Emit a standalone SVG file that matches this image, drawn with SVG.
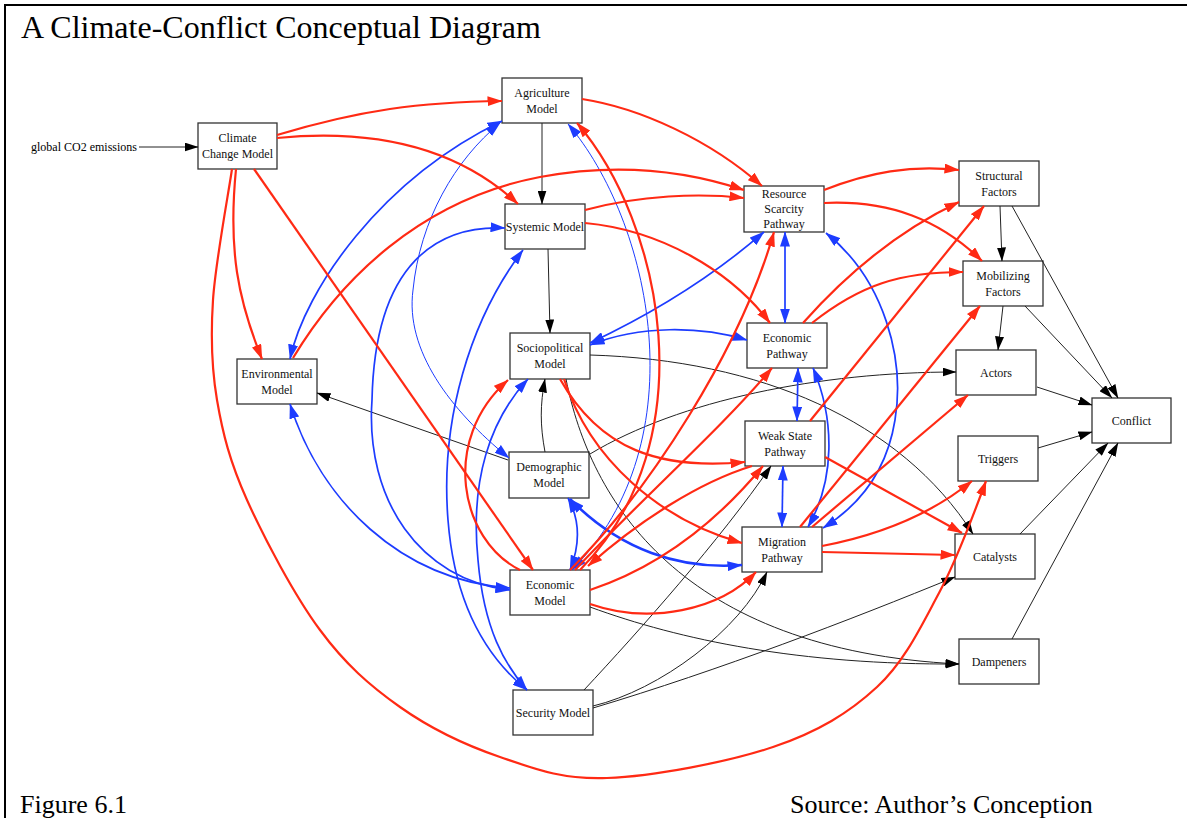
<svg xmlns="http://www.w3.org/2000/svg" width="1187" height="818" viewBox="0 0 1187 818">
<defs>
<marker id="ar" viewBox="0 0 15 10" refX="14.5" refY="5" markerWidth="15" markerHeight="10" markerUnits="userSpaceOnUse" orient="auto-start-reverse"><path d="M0,0L15,5L0,10z" fill="#ff2a14"/></marker>
<marker id="ab" viewBox="0 0 15 10" refX="14.5" refY="5" markerWidth="15" markerHeight="10" markerUnits="userSpaceOnUse" orient="auto-start-reverse"><path d="M0,0L15,5L0,10z" fill="#1d3cff"/></marker>
<marker id="ak" viewBox="0 0 14 9" refX="13.5" refY="4.5" markerWidth="14" markerHeight="9" markerUnits="userSpaceOnUse" orient="auto-start-reverse"><path d="M0,0L14,4.5L0,9z" fill="#000"/></marker>
<style>
.frame{fill:none;stroke:#000;stroke-width:2}
.cap{font-family:"Liberation Serif","Times New Roman",serif;fill:#000}
.node rect{fill:#fff;stroke:#333;stroke-width:1.3}
.node text{font-family:"Liberation Serif","Times New Roman",serif;font-size:12px;fill:#111;text-anchor:middle}
.r{fill:none;stroke:#ff2a14;stroke-width:2.2;marker-end:url(#ar)}
.b{fill:none;stroke:#1d3cff;stroke-width:1.7;marker-start:url(#ab);marker-end:url(#ab)}
.bt{stroke-width:1}
.bk{stroke-width:2.6}
.k{fill:none;stroke:#222;stroke-width:1;marker-end:url(#ak)}
</style>
</defs>
<rect width="1187" height="818" fill="#fff"/>
<path class="frame" d="M5,818 V5 H1187"/>
<text class="cap" x="21" y="38" font-size="32">A Climate-Conflict Conceptual Diagram</text>
<text class="cap" x="20" y="813" font-size="26">Figure 6.1</text>
<text class="cap" x="790" y="813" font-size="26">Source: Author’s Conception</text>
<text class="cap" x="31" y="151" font-size="12">global CO2 emissions</text>

<g id="n-climate" class="node"><rect x="198" y="123" width="79" height="46"/><text x="237.5" y="142">Climate</text><text x="237.5" y="158">Change Model</text></g>
<g id="n-agriculture" class="node"><rect x="502" y="78" width="80" height="45"/><text x="542" y="96.5">Agriculture</text><text x="542" y="112.5">Model</text></g>
<g id="n-systemic" class="node"><rect x="505" y="204" width="80" height="45"/><text x="545" y="230.5">Systemic Model</text></g>
<g id="n-sociopolitical" class="node"><rect x="510" y="333" width="80" height="46"/><text x="550" y="352">Sociopolitical</text><text x="550" y="368">Model</text></g>
<g id="n-environmental" class="node"><rect x="237" y="359" width="80" height="45"/><text x="277" y="377.5">Environmental</text><text x="277" y="393.5">Model</text></g>
<g id="n-demographic" class="node"><rect x="509" y="452" width="80" height="46"/><text x="549" y="471">Demographic</text><text x="549" y="487">Model</text></g>
<g id="n-economic-model" class="node"><rect x="510" y="570" width="80" height="45"/><text x="550" y="588.5">Economic</text><text x="550" y="604.5">Model</text></g>
<g id="n-security" class="node"><rect x="513" y="690" width="80" height="45"/><text x="553" y="716.5">Security Model</text></g>
<g id="n-resource" class="node"><rect x="744" y="186" width="80" height="46"/><text x="784" y="198">Resource</text><text x="784" y="213">Scarcity</text><text x="784" y="228">Pathway</text></g>
<g id="n-economic-pathway" class="node"><rect x="747" y="323" width="80" height="45"/><text x="787" y="341.5">Economic</text><text x="787" y="357.5">Pathway</text></g>
<g id="n-weak-state" class="node"><rect x="745" y="421" width="80" height="45"/><text x="785" y="439.5">Weak State</text><text x="785" y="455.5">Pathway</text></g>
<g id="n-migration" class="node"><rect x="742" y="527" width="80" height="45"/><text x="782" y="545.5">Migration</text><text x="782" y="561.5">Pathway</text></g>
<g id="n-structural" class="node"><rect x="959" y="161" width="80" height="45"/><text x="999" y="179.5">Structural</text><text x="999" y="195.5">Factors</text></g>
<g id="n-mobilizing" class="node"><rect x="963" y="261" width="80" height="45"/><text x="1003" y="279.5">Mobilizing</text><text x="1003" y="295.5">Factors</text></g>
<g id="n-actors" class="node"><rect x="956" y="350" width="80" height="45"/><text x="996" y="376.5">Actors</text></g>
<g id="n-conflict" class="node"><rect x="1092" y="398" width="79" height="45"/><text x="1131.5" y="424.5">Conflict</text></g>
<g id="n-triggers" class="node"><rect x="958" y="436" width="80" height="45"/><text x="998" y="462.5">Triggers</text></g>
<g id="n-catalysts" class="node"><rect x="955" y="534" width="80" height="45"/><text x="995" y="560.5">Catalysts</text></g>
<g id="n-dampeners" class="node"><rect x="959" y="639" width="80" height="45"/><text x="999" y="665.5">Dampeners</text></g>

<g id="connectors">
<path class="k" d="M139,147 L198,147"/>
<path class="k" d="M542,123 L542,204"/>
<path class="k" d="M548,249 L550,333"/>
<path class="k" d="M545,452 C540,425 540,405 545,379"/>
<path class="k" d="M508,460 L317,393"/>
<path class="k" d="M590,454 C680,400 820,372 956,372"/>
<path class="k" d="M590,355 C760,360 900,420 973,534"/>
<path class="k" d="M566,379 C590,500 680,650 959,664"/>
<path class="k" d="M590,607 C680,640 800,665 959,664"/>
<path class="k" d="M584,690 C640,630 720,540 771,466"/>
<path class="k" d="M593,706 C660,690 740,630 767,572"/>
<path class="k" d="M593,708 C720,670 850,620 955,577"/>
<path class="k" d="M1000,206 L1002,261"/>
<path class="k" d="M1012,206 L1118,398"/>
<path class="k" d="M1003,306 L998,350"/>
<path class="k" d="M1025,306 L1112,398"/>
<path class="k" d="M1037,387 L1092,405"/>
<path class="k" d="M1038,448 L1092,432"/>
<path class="k" d="M1020,534 L1108,443"/>
<path class="k" d="M1012,639 L1118,443"/>

<path class="b" d="M290,359 C305,290 380,180 502,121"/>
<path class="b bt" d="M509,458 C450,410 405,350 413,290 C420,220 455,160 500,123"/>
<path class="b bt" d="M568,124 C650,220 700,440 572,570"/>
<path class="b" d="M505,228 C440,225 375,260 372,400 C365,500 420,580 510,590"/>
<path class="b" d="M523,250 C470,320 440,420 448,520 C455,610 490,660 527,690"/>
<path class="b" d="M528,379 C490,420 470,480 478,560 C484,630 505,665 527,690"/>
<path class="b" d="M590,343 C660,310 720,270 764,232"/>
<path class="b" d="M590,345 C640,325 700,326 747,340"/>
<path class="b" d="M785,232 L785,323"/>
<path class="b" d="M798,368 L797,421"/>
<path class="b" d="M783,466 L782,527"/>
<path class="b" d="M813,368 C835,420 835,480 808,527"/>
<path class="b" d="M826,233 C885,280 905,360 895,420 C887,470 860,505 823,528"/>
<path class="b" d="M568,498 C580,520 580,545 570,570"/>
<path class="b bk" d="M570,499 C620,550 680,570 742,565"/>
<path class="b" d="M290,404 C320,500 400,580 510,588"/>

<path class="r" d="M277,135 C360,110 420,102 502,101"/>
<path class="r" d="M277,138 C380,128 460,150 518,204"/>
<path class="r" d="M236,169 C228,250 238,300 262,359"/>
<path class="r" d="M254,169 L533,570"/>
<path class="r" d="M232,169 C228.8,191.7 215.5,261.7 213,300 C210.5,338.3 211.3,366.7 217,400 C222.7,433.3 229.8,461.7 247,500 C264.2,538.3 294.5,595.5 320,630 C345.5,664.5 370,685.8 400,707 C430,728.2 465.5,745.2 500,757 C534.5,768.8 561.5,779.7 607,778 C652.5,776.3 728,762.2 773,747 C818,731.8 849.3,712.7 877,687 C904.7,661.3 920.8,626.8 939,593 C957.2,559.2 978.2,502.2 986,481"/>
<path class="r" d="M293,358 C340,280 420,200 540,177 C620,162 690,172 744,190"/>
<path class="r" d="M582,99 C640,108 710,140 762,186"/>
<path class="r" d="M585,210 C640,195 700,193 744,198"/>
<path class="r" d="M585,223 C660,230 730,270 770,323"/>
<path class="r" d="M824,190 C870,172 910,165 959,170"/>
<path class="r" d="M824,203 C890,200 940,220 982,261"/>
<path class="r" d="M803,323 C850,270 900,230 959,202"/>
<path class="r" d="M812,323 C860,285 900,272 963,272"/>
<path class="r" d="M810,421 L984,206"/>
<path class="r" d="M800,527 L980,306"/>
<path class="r" d="M812,527 L968,395"/>
<path class="r" d="M825,457 L962,533"/>
<path class="r" d="M822,546 C880,535 930,515 972,481"/>
<path class="r" d="M822,552 L955,555"/>
<path class="r" d="M570,570 C650,490 740,350 774,232"/>
<path class="r" d="M575,570 C640,500 720,430 772,368"/>
<path class="r" d="M590,590 C650,570 710,530 763,466"/>
<path class="r" d="M590,604 C650,625 720,610 756,572"/>
<path class="r" d="M580,570 C708,440 662,222 577,123"/>
<path class="r" d="M520,570 C460,540 440,440 508,380"/>
<path class="r" d="M560,379 C600,450 660,470 745,462"/>
<path class="r" d="M564,379 C590,460 660,520 742,543"/>
<path class="r" d="M752,466 C700,482 640,520 588,566"/>
</g>
</svg>
